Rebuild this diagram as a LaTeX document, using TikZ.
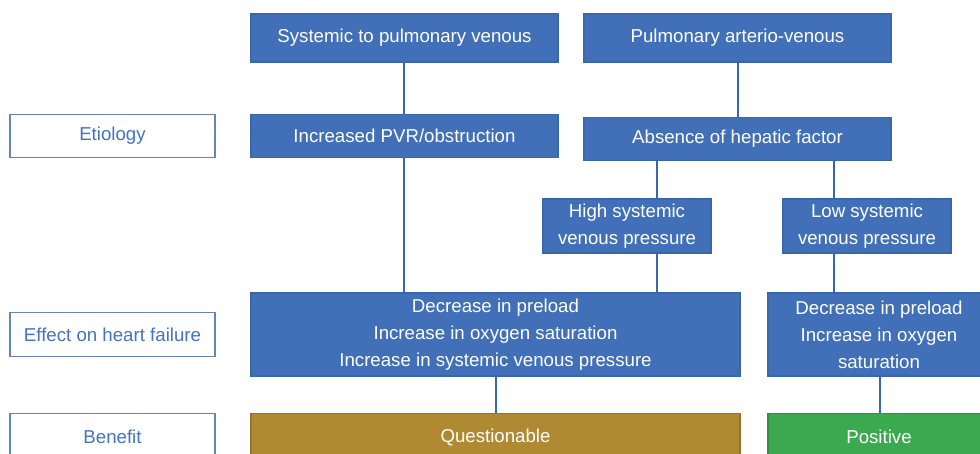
\documentclass[tikz,border=0pt]{standalone}
\usepackage{fontspec}
\setmainfont{Liberation Sans}
\definecolor{boxblue}{HTML}{4170B9}
\definecolor{boxedge}{HTML}{3A66AC}
\definecolor{labelblue}{HTML}{4472C4}
\definecolor{labeledge}{HTML}{6A84B2}
\definecolor{qgold}{HTML}{B08933}
\definecolor{pgreen}{HTML}{3BAA4F}
\tikzset{
  sz/.style 2 args={minimum width=#1*0.75pt, minimum height=#2*0.75pt},
  blk/.style={draw=boxedge, fill=boxblue, text=white, line width=0.8pt, inner sep=0pt, align=center,
    font=\fontsize{14}{20.25}\selectfont},
  lbl/.style={draw=labeledge, fill=white, text=labelblue, line width=1.1pt, inner sep=0pt, align=center,
    font=\fontsize{14}{20.25}\selectfont},
  link/.style={draw=boxedge, line width=1.5pt}
}
\begin{document}
\begin{tikzpicture}[x=0.75pt, y=-0.75pt]
\useasboundingbox (0,0) rectangle (980,453);
\clip (0,0) rectangle (980,453);
% left labels
\node[lbl, sz={205}{43}] (lEt) at (112.5,136) {Etiology};
\node[lbl, sz={205}{44}] (lEf) at (112.5,334.5) {Effect on heart failure};
\node[lbl, sz={205}{47}] (lBe) at (112.5,437) {Benefit};
% top boxes
\node[blk, sz={307}{48}] (s2p) at (404.5,38) {Systemic to pulmonary venous};
\node[blk, sz={307}{48}] (pav) at (737.5,38) {Pulmonary arterio-venous};
\node[blk, sz={307}{43}] (pvr) at (404.5,136) {Increased PVR/obstruction};
\node[blk, sz={307}{43}] (ahf) at (737.5,139) {Absence of hepatic factor};
\node[blk, sz={168}{54}] (hsv) at (627,226) {High systemic\\venous pressure};
\node[blk, sz={168}{54}] (lsv) at (867,226) {Low systemic\\venous pressure};
\node[blk, sz={489}{83}] (dec) at (495.5,334.5) {Decrease in preload\\Increase in oxygen saturation\\Increase in systemic venous pressure};
\node[blk, sz={222}{83}] (decr) at (879,334.5) {Decrease in preload\\Increase in oxygen\\saturation};
\node[blk, fill=qgold, draw=qgold!85!black, sz={489}{47}] (que) at (495.5,437) {Questionable};
\node[blk, fill=pgreen, draw=pgreen!85!black, sz={222}{47}] (pos) at (879,437) {Positive};
% connectors
\draw[link] (s2p.south -| 404,0) -- (pvr.north -| 404,0);
\draw[link] (pvr.south -| 404,0) -- (dec.north -| 404,0);
\draw[link] (pav.south -| 738,0) -- (ahf.north -| 738,0);
\draw[link] (ahf.south -| 657,0) -- (hsv.north -| 657,0);
\draw[link] (ahf.south -| 834,0) -- (lsv.north -| 834,0);
\draw[link] (hsv.south -| 657,0) -- (dec.north -| 657,0);
\draw[link] (lsv.south -| 834,0) -- (decr.north -| 834,0);
\draw[link] (dec.south -| 496,0) -- (que.north -| 496,0);
\draw[link] (decr.south -| 880,0) -- (pos.north -| 880,0);
\end{tikzpicture}
\end{document}
